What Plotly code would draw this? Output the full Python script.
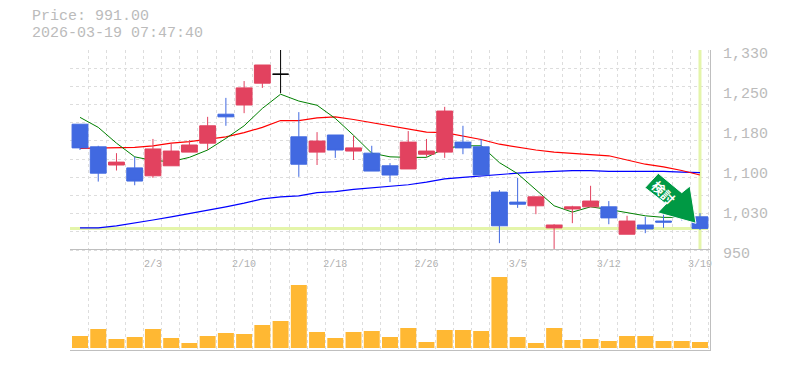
import plotly.graph_objects as go

W, H = 785, 370
PL, PR, PT, PB = 70, 710, 50, 350   # plot frame in pixels

price_now = 991.00
stamp = "2026-03-19 07:47:40"

opens = [1189,1146,1111.5,1106,1091,1110,1136,1153,1208,1225.5,1267,1284,1165,1136,1168.5,1138,1134,1110,1104,1132,1136,1155,1146,1060,1041,1034,992,1028,1032,1032,980,997.5,1005,1030,1013]
highs = [1189,1148,1134,1127,1161,1153,1159,1203,1239,1271,1301.5,1345,1212,1174,1168.5,1167,1148,1115,1176,1161,1222,1186,1161,1064,1087,1051,999,1034,1072,1043,1015,1013,1020,1040,1020]
lows = [1140,1080,1101,1073,1087,1110,1136,1140,1186,1210,1258,1248,1089,1111.5,1125,1121,1100,1079,1104,1127,1125,1132,1092.5,963,1030,1018,952,1001,1032,999,980,982,992,1006,988]
closes = [1144,1096,1117,1081,1142,1138,1149.5,1186,1203,1258,1301.5,1284,1113,1157,1140,1144,1100,1092.5,1155,1138,1214,1144,1092.5,996,1037,1051,997.5,1032,1043,1011,1005,990,1003,1012,991]

sma_short = [1202,1183,1153,1127,1120,1118,1126,1140,1162,1186,1219,1246,1233,1225,1200,1168,1134,1127,1126,1126,1143,1148,1148,1116,1095,1064,1034,1022,1032,1027,1021,1015,1012,1012,1008]
sma_mid = [1143,1144,1145,1145,1148,1153,1156,1160,1165,1173,1183,1196,1196,1201,1203,1198,1192,1186,1179,1174,1173,1167,1160,1151,1145,1140,1136,1134,1131,1129,1121,1113,1108,1101,1092.5]
sma_long = [992,992,996,1001,1007,1013,1019,1026,1032,1039,1047,1051,1053,1059,1061,1065,1068,1072,1074,1079,1085,1088,1091,1093,1096,1098,1099.5,1101,1101,1099.5,1099.5,1099.5,1099.5,1098,1097]

volumes = [12,19,9,11,19,10,5,12,15,14,23,27,63,16,10,16,17,11,20,6,18,18,17,71,11,5,20,8,9,7,12,12,7,7,6]

date_pos = [4, 9, 14, 19, 24, 29, 34]
date_labels = ["2/3", "2/10", "2/18", "2/26", "3/5", "3/12", "3/19"]

price_ticks = [950, 1026, 1102, 1178, 1254, 1330]
price_labels = ["950", "1,030", "1,100", "1,180", "1,250", "1,330"]

UP, DOWN = "#e2425f", "#4169e1"
GRID, TXT = "#dddddd", "#bbbbbb"
LIME = "#e4f5aa"
MONO = "Liberation Mono"

n = len(closes)
idx = list(range(n))
doji = 11
others = [i for i in idx if i != doji]

px_per_slot = 18.235
x_range = [-(10 / px_per_slot), (PR - 80) / px_per_slot]
grid_x = [i - 0.53 for i in range(n + 1)]
grid_y = [950 + 380 / 11 * k for k in range(12)]

units_per_px = 380 / 200
low_main = 950 - 3 * units_per_px
main_bottom_frac = 97 / 300
vol_top_frac = 100 / 300

fig = go.Figure()

# lines sit on the base price axis, under the candles
fig.add_trace(go.Scatter(x=[x_range[0], 34.45], y=[price_now, price_now], mode="lines",
                         line=dict(color=LIME, width=3), xaxis="x", yaxis="y", hoverinfo="skip"))
fig.add_trace(go.Scatter(x=[34, 34], y=[950.5, 1330], mode="lines",
                         line=dict(color=LIME, width=3), xaxis="x", yaxis="y", hoverinfo="skip"))
fig.add_trace(go.Scatter(x=idx, y=sma_long, mode="lines", line=dict(color="#0000ff", width=1.2), xaxis="x", yaxis="y"))
fig.add_trace(go.Scatter(x=idx, y=sma_mid, mode="lines", line=dict(color="#ff0000", width=1.2), xaxis="x", yaxis="y"))
fig.add_trace(go.Scatter(x=idx, y=sma_short, mode="lines", line=dict(color="#008000", width=1), xaxis="x", yaxis="y"))

# candles on an overlay with the same scale, so they cover the lines
fig.add_trace(go.Candlestick(
    x=others,
    open=[opens[i] for i in others], high=[highs[i] for i in others],
    low=[lows[i] for i in others], close=[closes[i] for i in others],
    increasing=dict(line=dict(color=UP, width=1), fillcolor=UP),
    decreasing=dict(line=dict(color=DOWN, width=1), fillcolor=DOWN),
    whiskerwidth=0, xaxis="x", yaxis="y4"))
fig.add_trace(go.Candlestick(
    x=[doji], open=[opens[doji]], high=[highs[doji]], low=[lows[doji]], close=[closes[doji]],
    increasing=dict(line=dict(color="#000000", width=1), fillcolor="#000000"),
    decreasing=dict(line=dict(color="#000000", width=1), fillcolor="#000000"),
    whiskerwidth=0, xaxis="x", yaxis="y4"))

# carrier for the price label axis
fig.add_trace(go.Scatter(x=[0], y=[price_now], mode="markers", marker=dict(opacity=0),
                         xaxis="x", yaxis="y3", hoverinfo="skip"))

fig.add_trace(go.Bar(x=idx, y=volumes, width=0.875, marker=dict(color="#ffb833", line=dict(width=0)),
                     xaxis="x2", yaxis="y2"))

arrow_px = [(645, 187.7), (658.3, 173.3), (681.7, 192.7), (690, 186), (696, 223.3), (657.7, 212.7), (666, 204)]
path = ""
for k, (ax, ay) in enumerate(arrow_px):
    path += ("M" if k == 0 else "L") + f"{(ax - PL) / (PR - PL):.4f},{(PB - ay) / (PB - PT):.4f} "
path += "Z"

fig.update_layout(
    width=W, height=H, autosize=False,
    margin=dict(l=PL, r=W - PR, t=PT, b=H - PB, pad=0, autoexpand=False),
    paper_bgcolor="white", plot_bgcolor="rgba(0,0,0,0)",
    showlegend=False, boxgap=0.13, boxgroupgap=0, bargap=0.12,
    font=dict(family=MONO, color=TXT),
    xaxis=dict(domain=[0, 1], range=x_range, anchor="y", rangeslider=dict(visible=False),
               tickmode="array", tickvals=date_pos, ticktext=date_labels,
               tickfont=dict(family=MONO, size=10, color="#b0b0b0"), ticks="", showgrid=False,
               showline=False, zeroline=False, ticklabelstandoff=3,
               minor=dict(tickmode="array", tickvals=grid_x, showgrid=True, gridcolor=GRID,
                          gridwidth=1, griddash="3px,3px", ticks="")),
    xaxis2=dict(domain=[0, 1], range=x_range, anchor="y2", matches="x",
                tickmode="array", tickvals=grid_x, showticklabels=False, ticks="",
                showgrid=True, gridcolor=GRID, gridwidth=1, griddash="3px,3px",
                showline=True, linecolor="#bfbfbf", linewidth=1, mirror=True, zeroline=False),
    yaxis=dict(domain=[main_bottom_frac, 1], range=[low_main, 1330], anchor="x",
               tickmode="array", tickvals=grid_y, showticklabels=False, ticks="",
               showgrid=True, gridcolor=GRID, gridwidth=1, griddash="3px,3px",
               showline=False, zeroline=False),
    yaxis2=dict(domain=[0, vol_top_frac], range=[-2, 98], anchor="x2", side="right",
                showticklabels=False, ticks="", showgrid=False, zeroline=False,
                showline=True, linecolor="#bfbfbf", linewidth=1),
    yaxis3=dict(overlaying="y", range=[950, 1330 + 3 * units_per_px], side="right", anchor="x",
                tickmode="array", tickvals=price_ticks, ticktext=price_labels,
                tickfont=dict(family=MONO, size=15, color=TXT), ticks="", ticklen=0,
                showgrid=False, zeroline=False, showline=True, linecolor="#bfbfbf", linewidth=1,
                ticklabelstandoff=9),
    yaxis4=dict(overlaying="y", matches="y", visible=False, anchor="x"),
    shapes=[dict(type="path", xref="paper", yref="paper", path=path, layer="above",
                 fillcolor="#009944", line=dict(color="white", width=1))],
    annotations=[
        dict(text=f"Price: {price_now:.2f}", xref="paper", yref="paper",
             x=(30 - PL) / (PR - PL), y=(PB - 17) / (PB - PT), xanchor="left", yanchor="middle",
             showarrow=False, font=dict(family=MONO, size=15, color=TXT)),
        dict(text=stamp, xref="paper", yref="paper",
             x=(30 - PL) / (PR - PL), y=(PB - 33) / (PB - PT), xanchor="left", yanchor="middle",
             showarrow=False, font=dict(family=MONO, size=15, color=TXT)),
        dict(text="<b>検討</b>", xref="paper", yref="paper",
             x=(664 - PL) / (PR - PL), y=(PB - 192) / (PB - PT), xanchor="center", yanchor="middle",
             showarrow=False, textangle=45, font=dict(family="Noto Sans CJK JP", size=13, color="white")),
    ],
)

fig.write_html("out.html", post_script="document.body.style.margin='0';",
               config=dict(displayModeBar=False))
